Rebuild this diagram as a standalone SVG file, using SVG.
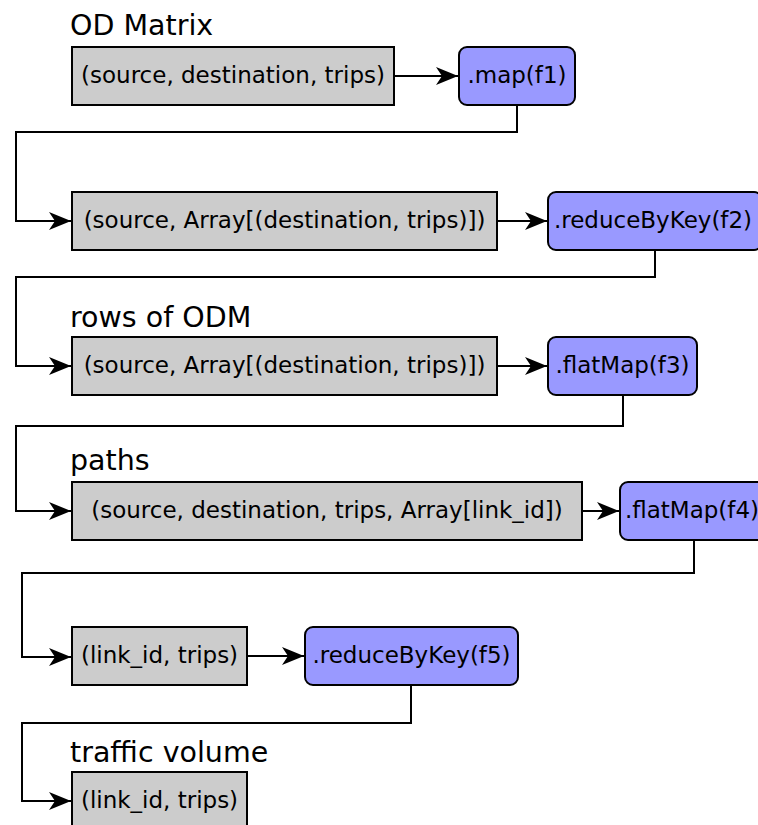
<svg xmlns="http://www.w3.org/2000/svg" width="758" height="825" viewBox="0 0 758 825">
<style>
.d{fill:#cccccc;stroke:#000;stroke-width:2}
.f{fill:#9999ff;stroke:#000;stroke-width:2}
text{font-family:"DejaVu Sans",sans-serif;fill:#000}
.t{font-size:23px;text-anchor:middle}
.h{font-size:28.5px}
.c{fill:none;stroke:#000;stroke-width:2;marker-end:url(#a)}
</style>
<defs>
<marker id="a" markerUnits="userSpaceOnUse" markerWidth="24" markerHeight="20" viewBox="-23 -10 24 20" refX="0" refY="0" orient="auto">
<path d="M0,0 L-22,-9 L-16,0 L-22,9 Z" fill="#000"/>
</marker>
</defs>
<g id="connectors">
<path class="c" d="M394,76 H458"/>
<path class="c" d="M517,105 V132 H16 V221 H71"/>
<path class="c" d="M497,221 H547"/>
<path class="c" d="M655,250 V277 H16 V366 H71"/>
<path class="c" d="M497,366 H547"/>
<path class="c" d="M623,395 V426 H16 V511 H71"/>
<path class="c" d="M582,511 H619"/>
<path class="c" d="M694,540 V573 H22 V657 H71"/>
<path class="c" d="M247,656 H304"/>
<path class="c" d="M411,685 V723 H22 V801 H71"/>
</g>
<g id="n1"><text class="h" x="70" y="35">OD Matrix</text><rect class="d" x="72" y="47" width="322" height="58"/><text class="t" x="233" y="83">(source, destination, trips)</text></g>
<g id="m1"><rect class="f" x="459" y="47" width="116" height="58" rx="8"/><text class="t" x="517" y="83">.map(f1)</text></g>
<g id="n2"><rect class="d" x="72" y="192" width="425" height="58"/><text class="t" x="284.5" y="228">(source, Array[(destination, trips)])</text></g>
<g id="m2"><rect class="f" x="548" y="192" width="214" height="58" rx="8"/><text class="t" x="653" y="228">.reduceByKey(f2)</text></g>
<g id="n3"><text class="h" x="70" y="327">rows of ODM</text><rect class="d" x="72" y="337" width="425" height="58"/><text class="t" x="284.5" y="373">(source, Array[(destination, trips)])</text></g>
<g id="m3"><rect class="f" x="548" y="337" width="149" height="58" rx="8"/><text class="t" x="622.5" y="373">.flatMap(f3)</text></g>
<g id="n4"><text class="h" x="70" y="470">paths</text><rect class="d" x="72" y="482" width="510" height="58"/><text class="t" x="327" y="518">(source, destination, trips, Array[link_id])</text></g>
<g id="m4"><rect class="f" x="620" y="482" width="148" height="58" rx="8"/><text class="t" x="692" y="518">.flatMap(f4)</text></g>
<g id="n5"><rect class="d" x="72" y="627" width="175" height="58"/><text class="t" x="159.5" y="663">(link_id, trips)</text></g>
<g id="m5"><rect class="f" x="305" y="627" width="213" height="58" rx="8"/><text class="t" x="411.5" y="663">.reduceByKey(f5)</text></g>
<g id="n6"><text class="h" x="70" y="762">traffic volume</text><rect class="d" x="72" y="772" width="175" height="58"/><text class="t" x="159.5" y="808">(link_id, trips)</text></g>
</svg>
